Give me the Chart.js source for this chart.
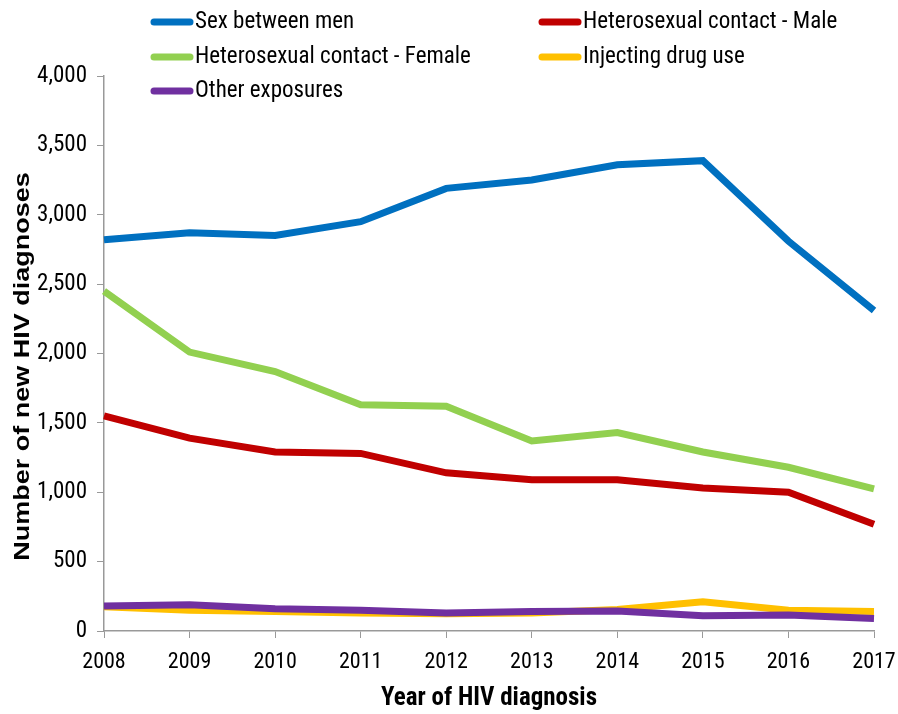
<!DOCTYPE html>
<html>
<head>
<meta charset="utf-8">
<script src="https://cdn.jsdelivr.net/npm/chart.js@4.4.1/dist/chart.umd.min.js"></script>
<style>
html,body{margin:0;padding:0;background:#fff;}
#wrap{position:relative;width:898px;height:714px;}
</style>
</head>
<body>
<div id="wrap"><canvas id="c" width="898" height="714"></canvas></div>
<script>
const years = ['2008','2009','2010','2011','2012','2013','2014','2015','2016','2017'];
const sexBetweenMen = [2820, 2870, 2850, 2950, 3190, 3250, 3360, 3390, 2810, 2310];
const heteroMale = [1550, 1390, 1290, 1280, 1140, 1090, 1090, 1030, 1000, 770];
const heteroFemale = [2450, 2010, 1870, 1630, 1620, 1370, 1430, 1290, 1180, 1025];
const injectingDrugUse = [175, 150, 140, 130, 125, 130, 155, 210, 150, 140];
const otherExposures = [180, 190, 160, 150, 130, 140, 145, 110, 115, 90];
const seriesLabels = ['Sex between men','Heterosexual contact - Male','Heterosexual contact - Female','Injecting drug use','Other exposures'];
const yTicks = [0,500,1000,1500,2000,2500,3000,3500,4000];
const xTitle = 'Year of HIV diagnosis';
const yTitle = 'Number of new HIV diagnoses';

const FONT = '"Roboto Condensed", "Liberation Sans", Arial, sans-serif';
const colors = ['#0070C0','#C00000','#92D050','#FFC000','#7030A0'];
const seriesData = [sexBetweenMen, heteroMale, heteroFemale, injectingDrugUse, otherExposures];
// draw order: yellow beneath purple
const order = [0,1,2,4,3];

const datasets = seriesData.map((d,i)=>({
  label: seriesLabels[i],
  data: d,
  borderColor: colors[i],
  backgroundColor: colors[i],
  borderWidth: 7,
  pointRadius: 0,
  tension: 0,
  fill: false,
  order: order[i]
}));

const decorPlugin = {
  id: 'decor',
  afterDraw(chart){
    const ctx = chart.ctx;
    const pos = [[150,22],[538,22],[150,57],[538,57],[150,91]];
    ctx.save();
    chart.data.datasets.forEach((ds,i)=>{
      const [x,y] = pos[i];
      ctx.strokeStyle = ds.borderColor;
      ctx.lineWidth = 7;
      ctx.lineCap = 'round';
      ctx.beginPath();
      ctx.moveTo(x+4,y);
      ctx.lineTo(x+40,y);
      ctx.stroke();
      ctx.fillStyle = '#000';
      ctx.font = '23px ' + FONT;
      ctx.textBaseline = 'middle';
      ctx.textAlign = 'left';
      ctx.fillText(ds.label, x+45, y);
    });
    // y axis title (rotated)
    const yc = (chart.chartArea.top + chart.chartArea.bottom) / 2;
    ctx.translate(23, yc + 13);
    ctx.rotate(-Math.PI/2);
    ctx.scale(1, 0.8);
    ctx.font = 'bold 27px "Liberation Sans", Arial, sans-serif';
    ctx.textAlign = 'center';
    ctx.textBaseline = 'middle';
    ctx.fillStyle = '#000';
    ctx.fillText(yTitle, 0, 0);
    ctx.restore();
  }
};

new Chart(document.getElementById('c'), {
  type: 'line',
  data: { labels: years, datasets },
  options: {
    responsive: false,
    animation: false,
    layout: { padding: { top: 76, right: 24, bottom: 0, left: 0 } },
    plugins: { legend: { display: false }, tooltip: { enabled: false } },
    scales: {
      x: {
        offset: false,
        grid: { display: true, drawOnChartArea: false, drawTicks: true, tickLength: 7, color: '#999' },
        border: { color: '#999', width: 1.5 },
        ticks: { color: '#000', font: { family: FONT, size: 22 }, padding: 11, maxRotation: 0, autoSkip: false },
        title: { display: true, text: xTitle, color: '#000', font: { family: FONT, size: 25, weight: 'bold' }, padding: { top: 4, bottom: 0 } },
        afterFit(s){ s.height = 83; s.paddingLeft = 0; s.paddingRight = 0; }
      },
      y: {
        min: 0, max: 4000,
        afterBuildTicks(s){ s.ticks = yTicks.map(v=>({value:v})); },
        grid: { display: true, drawOnChartArea: false, drawTicks: true, tickLength: 7, color: '#999' },
        border: { color: '#999', width: 1.5 },
        ticks: { color: '#000', font: { family: FONT, size: 23 }, padding: 10,
          callback: v => v.toLocaleString('en-US') },
        title: { display: false },
        afterFit(s){ s.width = 104; }
      }
    }
  },
  plugins: [decorPlugin]
});
</script>
</body>
</html>
